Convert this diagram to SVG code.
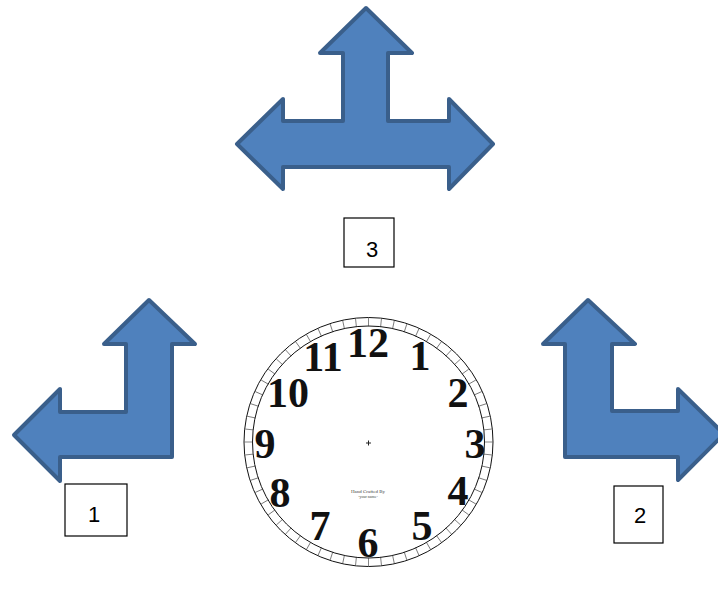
<svg xmlns="http://www.w3.org/2000/svg" width="718" height="606" viewBox="0 0 718 606">
<style>
.arrow{fill:#4f81bd;stroke:#3a5f8b;stroke-width:4;stroke-linejoin:round}
.box{fill:#fff;stroke:#000;stroke-width:1.2}
.lbl{font-family:"Liberation Sans",Arial,sans-serif;font-size:22px;fill:#000;text-anchor:middle}
.num{font-family:"Liberation Serif","DejaVu Serif",serif;font-weight:bold;font-size:42px;fill:#111;text-anchor:middle}
.tiny{font-family:"Liberation Serif",serif;fill:#444;text-anchor:middle}
.ring{fill:none;stroke:#111;stroke-width:1}
</style>
<defs>
<line id="tick" x1="368.5" y1="318" x2="368.5" y2="326.5" stroke="#333" stroke-width="0.6"/>
</defs>
<rect width="718" height="606" fill="#fff"/>
<g id="arrow-top">
<path class="arrow" d="M366,8 L412,53 L388,53 L388,121 L449,121 L449,99 L493,144 L449,189 L449,167 L283,167 L283,189 L237,144 L283,99 L283,121 L343,121 L343,53 L320,53 Z"/>
</g>
<g id="arrow-left">
<path class="arrow" d="M149,300 L195,344 L172,344 L172,457 L60,457 L60,481 L14,435 L60,389 L60,412 L126,412 L126,344 L104,344 Z"/>
</g>
<g id="arrow-right">
<path class="arrow" d="M588,300 L635,344 L612,344 L612,411 L678,411 L678,389 L724,434 L678,480 L678,457 L565,457 L565,344 L543,344 Z"/>
</g>
<g id="label-3">
<rect class="box" x="344" y="218" width="50" height="49"/>
<text class="lbl" x="372" y="257">3</text>
</g>
<g id="label-1">
<rect class="box" x="65" y="484" width="62" height="52"/>
<text class="lbl" x="94" y="522">1</text>
</g>
<g id="label-2">
<rect class="box" x="614" y="486" width="49" height="57"/>
<text class="lbl" x="640" y="523">2</text>
</g>
<g id="clock">
<circle class="ring" cx="368.5" cy="442" r="124.5"/>
<circle class="ring" cx="368.5" cy="442" r="116"/>
<g>
<use href="#tick" transform="rotate(0 368.5 442)"/><use href="#tick" transform="rotate(6 368.5 442)"/><use href="#tick" transform="rotate(12 368.5 442)"/><use href="#tick" transform="rotate(18 368.5 442)"/><use href="#tick" transform="rotate(24 368.5 442)"/><use href="#tick" transform="rotate(30 368.5 442)"/><use href="#tick" transform="rotate(36 368.5 442)"/><use href="#tick" transform="rotate(42 368.5 442)"/><use href="#tick" transform="rotate(48 368.5 442)"/><use href="#tick" transform="rotate(54 368.5 442)"/>
<use href="#tick" transform="rotate(60 368.5 442)"/><use href="#tick" transform="rotate(66 368.5 442)"/><use href="#tick" transform="rotate(72 368.5 442)"/><use href="#tick" transform="rotate(78 368.5 442)"/><use href="#tick" transform="rotate(84 368.5 442)"/><use href="#tick" transform="rotate(90 368.5 442)"/><use href="#tick" transform="rotate(96 368.5 442)"/><use href="#tick" transform="rotate(102 368.5 442)"/><use href="#tick" transform="rotate(108 368.5 442)"/><use href="#tick" transform="rotate(114 368.5 442)"/>
<use href="#tick" transform="rotate(120 368.5 442)"/><use href="#tick" transform="rotate(126 368.5 442)"/><use href="#tick" transform="rotate(132 368.5 442)"/><use href="#tick" transform="rotate(138 368.5 442)"/><use href="#tick" transform="rotate(144 368.5 442)"/><use href="#tick" transform="rotate(150 368.5 442)"/><use href="#tick" transform="rotate(156 368.5 442)"/><use href="#tick" transform="rotate(162 368.5 442)"/><use href="#tick" transform="rotate(168 368.5 442)"/><use href="#tick" transform="rotate(174 368.5 442)"/>
<use href="#tick" transform="rotate(180 368.5 442)"/><use href="#tick" transform="rotate(186 368.5 442)"/><use href="#tick" transform="rotate(192 368.5 442)"/><use href="#tick" transform="rotate(198 368.5 442)"/><use href="#tick" transform="rotate(204 368.5 442)"/><use href="#tick" transform="rotate(210 368.5 442)"/><use href="#tick" transform="rotate(216 368.5 442)"/><use href="#tick" transform="rotate(222 368.5 442)"/><use href="#tick" transform="rotate(228 368.5 442)"/><use href="#tick" transform="rotate(234 368.5 442)"/>
<use href="#tick" transform="rotate(240 368.5 442)"/><use href="#tick" transform="rotate(246 368.5 442)"/><use href="#tick" transform="rotate(252 368.5 442)"/><use href="#tick" transform="rotate(258 368.5 442)"/><use href="#tick" transform="rotate(264 368.5 442)"/><use href="#tick" transform="rotate(270 368.5 442)"/><use href="#tick" transform="rotate(276 368.5 442)"/><use href="#tick" transform="rotate(282 368.5 442)"/><use href="#tick" transform="rotate(288 368.5 442)"/><use href="#tick" transform="rotate(294 368.5 442)"/>
<use href="#tick" transform="rotate(300 368.5 442)"/><use href="#tick" transform="rotate(306 368.5 442)"/><use href="#tick" transform="rotate(312 368.5 442)"/><use href="#tick" transform="rotate(318 368.5 442)"/><use href="#tick" transform="rotate(324 368.5 442)"/><use href="#tick" transform="rotate(330 368.5 442)"/><use href="#tick" transform="rotate(336 368.5 442)"/><use href="#tick" transform="rotate(342 368.5 442)"/><use href="#tick" transform="rotate(348 368.5 442)"/><use href="#tick" transform="rotate(354 368.5 442)"/>
</g>
<text class="num" x="368" y="357">12</text>
<text class="num" x="323" y="371">11</text>
<text class="num" x="420" y="370">1</text>
<text class="num" x="288" y="407">10</text>
<text class="num" x="458" y="407">2</text>
<text class="num" x="265" y="458">9</text>
<text class="num" x="475" y="458">3</text>
<text class="num" x="280" y="507">8</text>
<text class="num" x="458" y="505">4</text>
<text class="num" x="320" y="540">7</text>
<text class="num" x="422" y="540">5</text>
<text class="num" x="368" y="557">6</text>
<path d="M366,443 H371 M368.5,440.5 V445.5" stroke="#222" stroke-width="1"/>
<text class="tiny" x="368" y="493" font-size="5">Hand Crafted By</text>
<text class="tiny" x="368" y="498" font-size="4">-your name-</text>
</g>
</svg>
